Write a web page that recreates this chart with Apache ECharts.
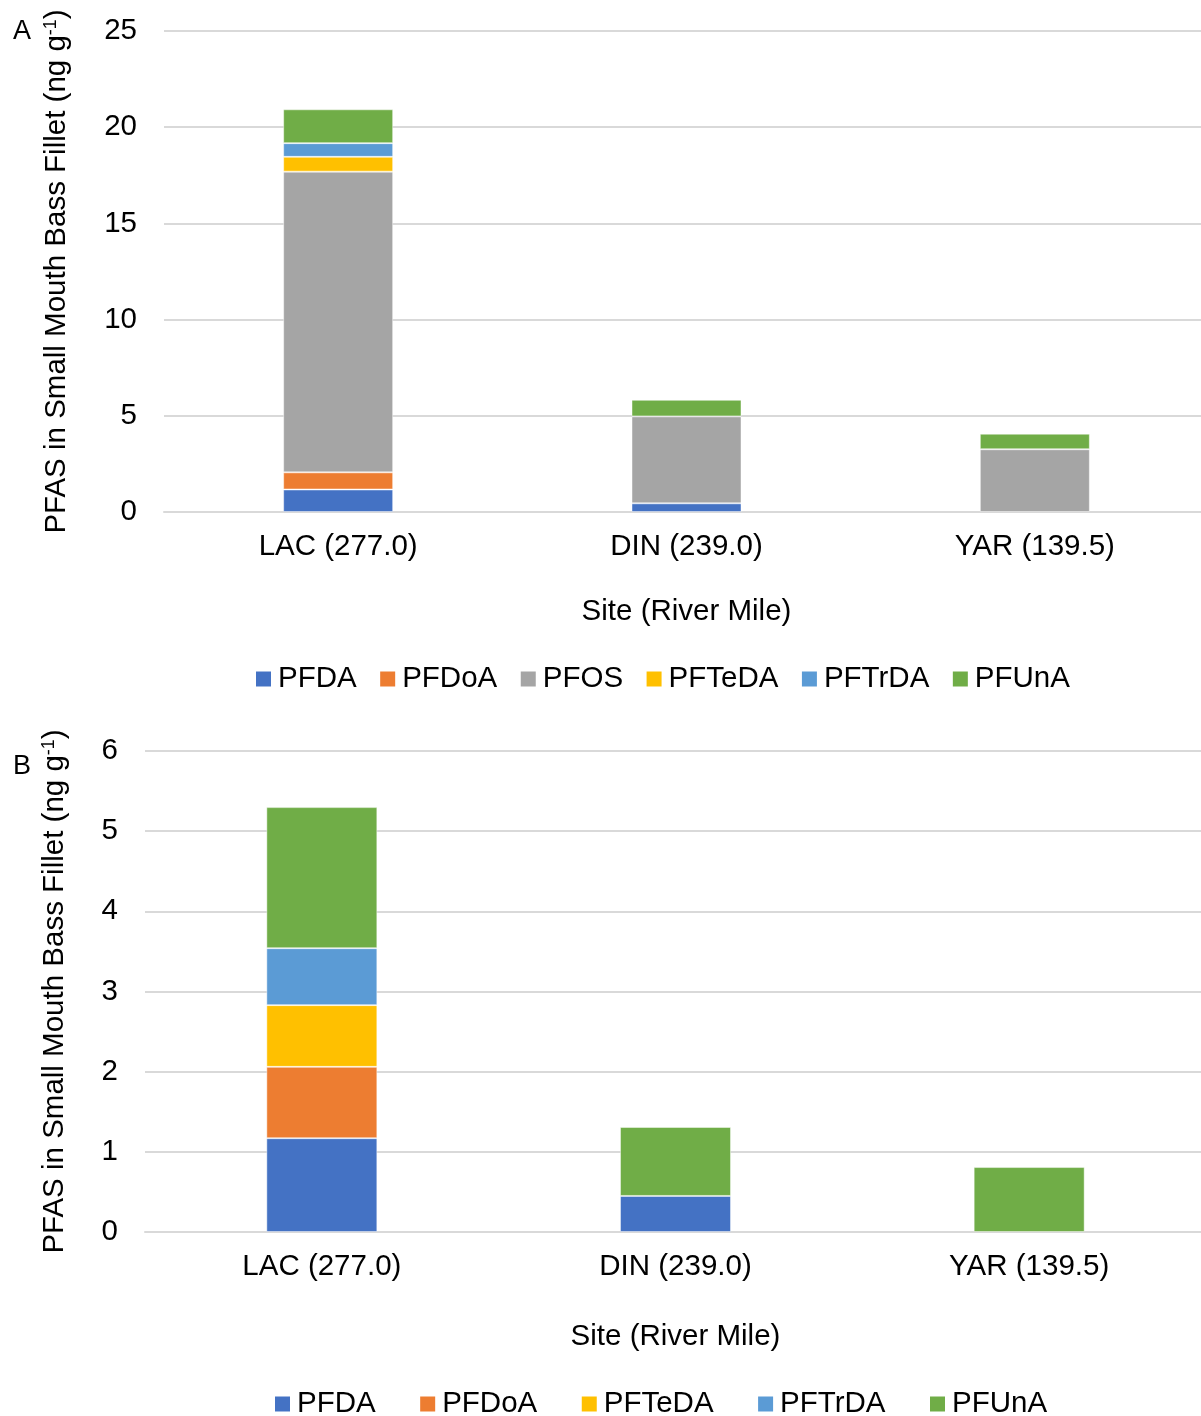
<!DOCTYPE html>
<html>
<head>
<meta charset="utf-8">
<script src="https://cdn.jsdelivr.net/npm/echarts@6/dist/echarts.min.js"></script>
<style>
  html, body { margin: 0; padding: 0; background: #ffffff; overflow: hidden; }
  #chartA, #chartB { width: 1215px; height: 708px; }
</style>
</head>
<body>
<div id="chartA"></div>
<div id="chartB"></div>
<script>
// Sites along the river (river mile in parentheses)
const sites = ['LAC (277.0)', 'DIN (239.0)', 'YAR (139.5)'];

// PFAS concentrations in smallmouth bass fillet, ng/g, per site
const pfda   = [1.17, 0.45, null];
const pfdoa  = [0.89, null, null];
const pfos   = [15.63, 4.52, 3.26];
const pfteda = [0.77, null, null];
const pftrda = [0.71, null, null];
const pfuna  = [1.76, 0.86, 0.81];

// Y-axis ticks for each panel
const ticksA = [0, 5, 10, 15, 20, 25];
const ticksB = [0, 1, 2, 3, 4, 5, 6];

const colors = {
  PFDA: '#4472C4', PFDoA: '#ED7D31', PFOS: '#A5A5A5',
  PFTeDA: '#FFC000', PFTrDA: '#5B9BD5', PFUnA: '#70AD47'
};

const FONT = '"Liberation Sans", Arial, sans-serif';
const FS = 29.5;

function makeSeries(list, barWidth) {
  return list.map(([name, values]) => ({
    name: name,
    type: 'bar',
    stack: 'total',
    barWidth: barWidth,
    data: values,
    itemStyle: { color: colors[name], borderColor: 'rgba(255,255,255,0.45)', borderWidth: 1 }
  }));
}

function makeOption(cfg) {
  return {
    animation: false,
    textStyle: { fontFamily: FONT },
    graphic: [{
      type: 'text', left: 13, top: cfg.letterTop,
      style: { text: cfg.letter, font: '27px ' + FONT, fill: '#000' }
    }],
    legend: {
      left: cfg.legendLeft, top: cfg.legendTop,
      padding: 0,
      itemWidth: 15, itemHeight: 15, itemGap: cfg.legendGap,
      icon: 'rect',
      itemStyle: { borderWidth: 0 },
      textStyle: { fontSize: FS, color: '#000', fontFamily: FONT, padding: [0, 0, 0, 2] },
      data: cfg.series.map(s => s[0])
    },
    grid: { left: cfg.gridLeft, top: cfg.gridTop, width: cfg.gridWidth, height: 481 },
    xAxis: {
      type: 'category',
      data: sites,
      name: 'Site (River Mile)',
      nameLocation: 'middle',
      nameGap: cfg.xNameGap,
      nameTextStyle: { fontSize: FS, color: '#000', fontFamily: FONT },
      axisLine: { lineStyle: { color: '#d9d9d9', width: 2 } },
      axisTick: { show: false },
      axisLabel: { fontSize: FS, color: '#000', margin: 20, fontFamily: FONT }
    },
    yAxis: {
      type: 'value',
      min: cfg.ticks[0],
      max: cfg.ticks[cfg.ticks.length - 1],
      interval: cfg.ticks[1] - cfg.ticks[0],
      name: 'PFAS in Small Mouth Bass Fillet (ng g{sup|-1})',
      nameLocation: 'middle',
      nameGap: cfg.yNameGap,
      nameRotate: 90,
      nameTextStyle: {
        fontSize: FS, color: '#000', fontFamily: FONT,
        rich: { sup: { fontSize: 18, color: '#000', fontFamily: FONT, verticalAlign: 'top', padding: [0, 0, 12, 0] } }
      },
      axisLine: { show: false },
      axisTick: { show: false },
      axisLabel: { fontSize: FS, color: '#000', margin: 27, fontFamily: FONT },
      splitLine: { lineStyle: { color: '#d9d9d9', width: 2 } }
    },
    series: makeSeries(cfg.series, cfg.barWidth)
  };
}

// Panel A: all compounds including PFOS
const chartA = echarts.init(document.getElementById('chartA'), null, { renderer: 'canvas' });
chartA.setOption(makeOption({
  letter: 'A', letterTop: 18,
  ticks: ticksA,
  gridLeft: 164, gridTop: 31, gridWidth: 1045,
  barWidth: 110,
  xNameGap: 85, yNameGap: 92,
  legendLeft: 256, legendTop: 664, legendGap: 23.5,
  series: [['PFDA', pfda], ['PFDoA', pfdoa], ['PFOS', pfos],
           ['PFTeDA', pfteda], ['PFTrDA', pftrda], ['PFUnA', pfuna]]
}));

// Panel B: same compounds without PFOS
const chartB = echarts.init(document.getElementById('chartB'), null, { renderer: 'canvas' });
chartB.setOption(makeOption({
  letter: 'B', letterTop: 45,
  ticks: ticksB,
  gridLeft: 145, gridTop: 43, gridWidth: 1061,
  barWidth: 111,
  xNameGap: 90, yNameGap: 75,
  legendLeft: 275, legendTop: 681, legendGap: 44.5,
  series: [['PFDA', pfda], ['PFDoA', pfdoa],
           ['PFTeDA', pfteda], ['PFTrDA', pftrda], ['PFUnA', pfuna]]
}));
</script>
</body>
</html>
